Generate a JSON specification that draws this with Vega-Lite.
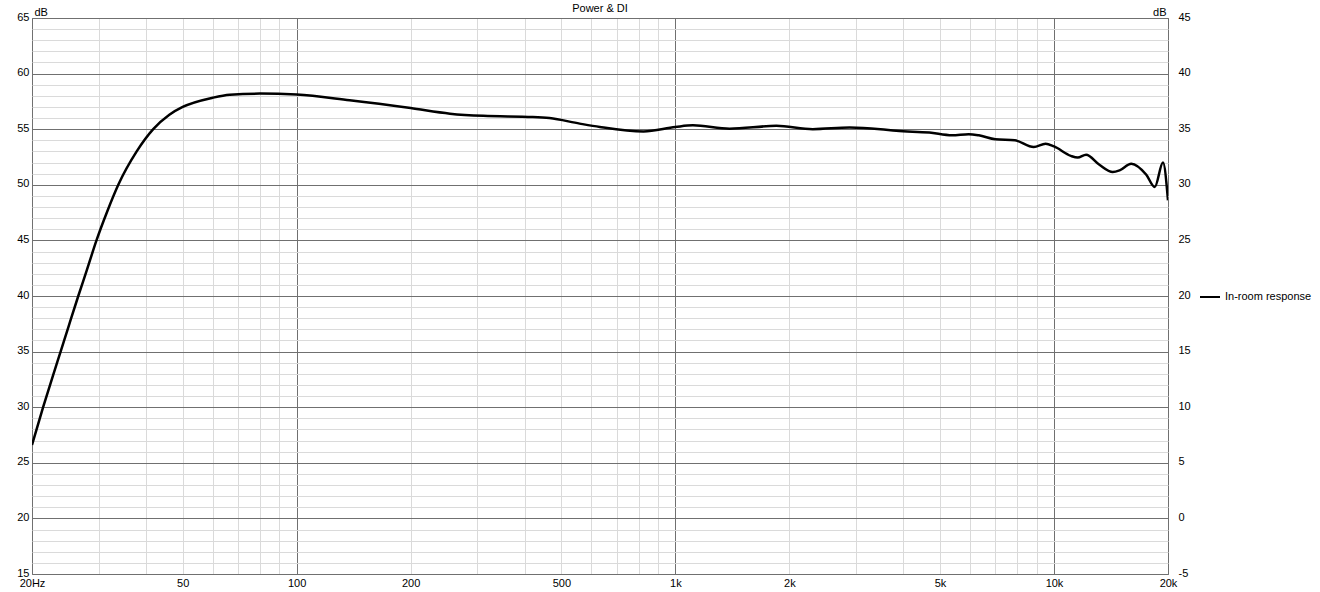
{
  "$schema": "https://vega.github.io/schema/vega-lite/v6.json",
  "autosize": "none",
  "width": 1136,
  "height": 556,
  "padding": {"left": 32, "top": 18, "right": 152, "bottom": 18},
  "background": "#ffffff",
  "title": {"text": "Power & DI", "fontSize": 11, "fontWeight": "normal", "font": "Liberation Sans", "color": "#000000", "anchor": "middle", "offset": -17, "baseline": "alphabetic"},
  "config": {
    "view": {"stroke": "#6e6e6e", "strokeWidth": 1},
    "axis": {"labelFont": "Liberation Sans", "labelFontSize": 11, "labelColor": "#000000", "titleFont": "Liberation Sans", "titleFontSize": 11, "titleFontWeight": "normal", "titleColor": "#000000", "domain": false, "ticks": false},
    "legend": {"labelFont": "Liberation Sans", "labelFontSize": 11, "labelColor": "#000000"}
  },
  "data": {"values": [
    {"f": 20, "db": 26.6},
    {"f": 21.4, "db": 30.0},
    {"f": 22.7, "db": 32.8},
    {"f": 23.8, "db": 35.0},
    {"f": 25.0, "db": 37.3},
    {"f": 26.5, "db": 40.0},
    {"f": 27.9, "db": 42.3},
    {"f": 29.6, "db": 45.0},
    {"f": 31.6, "db": 47.6},
    {"f": 33.8, "db": 50.0},
    {"f": 37.8, "db": 53.0},
    {"f": 41.8, "db": 55.0},
    {"f": 46.1, "db": 56.3},
    {"f": 50, "db": 57.0},
    {"f": 60, "db": 57.83},
    {"f": 66.6, "db": 58.1},
    {"f": 80, "db": 58.2},
    {"f": 100, "db": 58.12},
    {"f": 138, "db": 57.6},
    {"f": 200, "db": 56.9},
    {"f": 254, "db": 56.4},
    {"f": 311, "db": 56.2},
    {"f": 420, "db": 56.1},
    {"f": 465, "db": 56.0},
    {"f": 559, "db": 55.5},
    {"f": 632, "db": 55.2},
    {"f": 824, "db": 54.8},
    {"f": 1000, "db": 55.2},
    {"f": 1113, "db": 55.35},
    {"f": 1391, "db": 55.05},
    {"f": 1848, "db": 55.3},
    {"f": 2306, "db": 55.0},
    {"f": 2887, "db": 55.15},
    {"f": 3480, "db": 55.0},
    {"f": 3833, "db": 54.85},
    {"f": 4685, "db": 54.7},
    {"f": 5380, "db": 54.45},
    {"f": 5950, "db": 54.55},
    {"f": 6330, "db": 54.45},
    {"f": 7000, "db": 54.1},
    {"f": 7880, "db": 54.0},
    {"f": 8840, "db": 53.4},
    {"f": 9500, "db": 53.7},
    {"f": 10000, "db": 53.45},
    {"f": 11080, "db": 52.6},
    {"f": 11550, "db": 52.45},
    {"f": 12150, "db": 52.7},
    {"f": 13180, "db": 51.8},
    {"f": 14290, "db": 51.15},
    {"f": 14900, "db": 51.3},
    {"f": 16000, "db": 51.9},
    {"f": 17530, "db": 50.9},
    {"f": 18450, "db": 49.8},
    {"f": 19400, "db": 52.0},
    {"f": 20000, "db": 48.6}
  ]},
  "layer": [
    {
      "mark": {"type": "line", "strokeWidth": 2.5, "interpolate": "monotone", "clip": true},
      "encoding": {
        "x": {
          "field": "f", "type": "quantitative",
          "scale": {"type": "log", "domain": [20, 20000], "nice": false},
          "axis": {
            "title": null,
            "values": [20,30,40,50,60,70,80,90,100,200,300,400,500,600,700,800,900,1000,2000,3000,4000,5000,6000,7000,8000,9000,10000,20000],
            "labelExpr": "datum.value==20?'20Hz':datum.value==50?'50':datum.value==100?'100':datum.value==200?'200':datum.value==500?'500':datum.value==1000?'1k':datum.value==2000?'2k':datum.value==5000?'5k':datum.value==10000?'10k':datum.value==20000?'20k':''",
            "labelOverlap": false,
            "labelPadding": 3,
            "labelFlush": false,
            "grid": true,
            "gridColor": {"condition": {"test": "datum.value==20||datum.value==100||datum.value==1000||datum.value==10000||datum.value==20000", "value": "#707070"}, "value": "#dadada"},
            "gridOpacity": 1
          }
        },
        "y": {
          "field": "db", "type": "quantitative",
          "scale": {"domain": [15, 65], "nice": false, "zero": false},
          "axis": {
            "orient": "left",
            "title": "dB",
            "titleAngle": 0,
            "titleAlign": "left",
            "titleBaseline": "alphabetic",
            "titleX": 2,
            "titleY": -3,
            "values": [15,16,17,18,19,20,21,22,23,24,25,26,27,28,29,30,31,32,33,34,35,36,37,38,39,40,41,42,43,44,45,46,47,48,49,50,51,52,53,54,55,56,57,58,59,60,61,62,63,64,65],
            "labelExpr": "datum.value % 5 === 0 ? datum.label : ''",
            "labelOverlap": false,
            "labelPadding": 3,
            "labelOffset": -1,
            "labelFlush": false,
            "grid": true,
            "gridColor": {"condition": {"test": "datum.value % 5 === 0", "value": "#707070"}, "value": "#dadada"},
            "gridOpacity": 1
          }
        },
        "color": {
          "datum": "In-room response", "type": "nominal",
          "scale": {"range": ["#000000"]},
          "legend": {"title": null, "orient": "none", "legendX": 1167, "legendY": 268, "symbolType": "stroke", "symbolSize": 400, "symbolStrokeWidth": 2, "labelOffset": 4, "padding": 0}
        }
      }
    },
    {
      "mark": {"type": "rule", "opacity": 0},
      "encoding": {
        "y": {
          "field": "db", "type": "quantitative",
          "scale": {"domain": [15, 65], "nice": false, "zero": false},
          "axis": {
            "orient": "right",
            "title": "dB",
            "titleAngle": 0,
            "titleAlign": "right",
            "titleBaseline": "alphabetic",
            "titleX": -2,
            "titleY": -3,
            "values": [15,20,25,30,35,40,45,50,55,60,65],
            "labelExpr": "'' + (datum.value - 20)",
            "labelPadding": 10,
            "labelOffset": -1,
            "labelFlush": false,
            "labelOverlap": false,
            "grid": false
          }
        }
      }
    }
  ],
  "resolve": {"axis": {"y": "independent"}}
}
